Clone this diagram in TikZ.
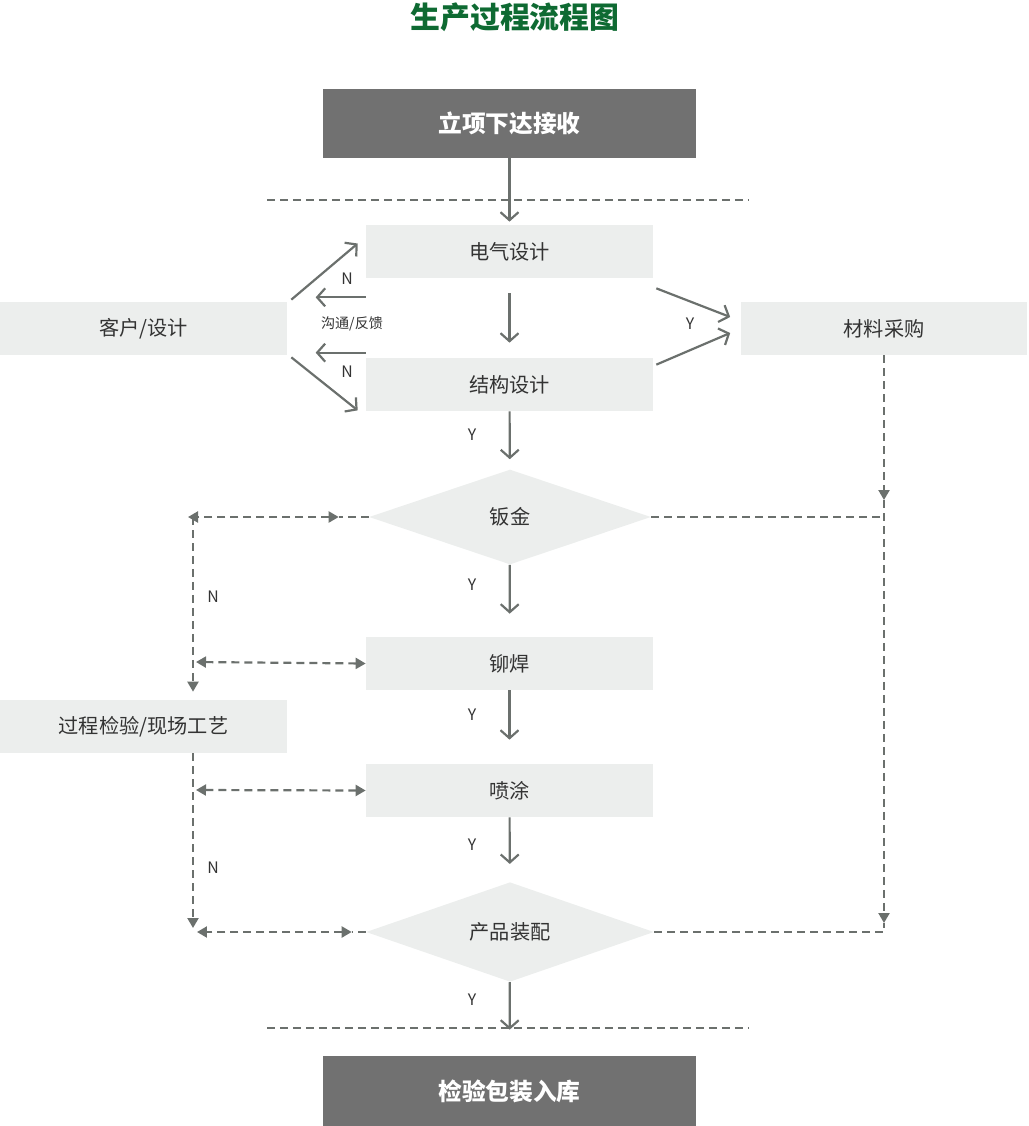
\documentclass[tikz,border=0pt]{standalone}
\usepackage{fontspec}
\setmainfont{Noto Sans CJK SC}
\usetikzlibrary{arrows.meta,shapes.geometric}
\definecolor{lnc}{HTML}{6B706D}
\definecolor{boxc}{HTML}{ECEEED}
\definecolor{darkc}{HTML}{717171}
\definecolor{titlec}{HTML}{0E6A32}
\definecolor{txtc}{HTML}{333333}

\begin{document}
\begin{tikzpicture}[x=0.02cm,y=-0.02cm,
    stage/.style={fill=boxc,text=txtc,minimum width=5.74cm,minimum height=1.06cm,inner sep=0pt,font=\fontsize{11.5}{13}\selectfont},
    headbox/.style={fill=darkc,text=white,minimum width=7.46cm,minimum height=1.38cm,inner sep=0pt,font=\fontsize{13.5}{16}\selectfont\bfseries},
    check/.style={diamond,fill=boxc,text=txtc,inner sep=0pt,font=\fontsize{11.5}{13}\selectfont},
    yn/.style={text=txtc,font=\fontsize{9}{11}\selectfont},
    flow/.style={draw=lnc,line width=1.25pt,>={Straight Barb[length=0.16cm,width=0.36cm]},->},
    dline/.style={draw=lnc,line width=1.25pt,dash pattern=on 0.16cm off 0.1cm,>={Triangle[length=0.2cm,width=0.22cm]}},
    dboth/.style={dline,<->}]
  \useasboundingbox (0,0) rectangle (1028,1126);
  \node[font=\fontsize{17}{20}\selectfont\bfseries,text=titlec] (title) at (515,17) {生产过程流程图};
  \node[headbox] (lx) at (509.5,123.5) {立项下达接收};
  \node[stage] (dq) at (509.5,251.5) {电气设计};
  \node[stage] (jg) at (509.5,384.5) {结构设计};
  \node[stage] (kh) at (143.5,328.5) {客户/设计};
  \node[stage] (cg) at (884,328.5) {材料采购};
  \node[check,minimum width=5.64cm,minimum height=1.9cm] (bj) at (510,517) {钣金};
  \node[stage] (mh) at (509.5,663.5) {铆焊};
  \node[stage] (pt) at (509.5,790.5) {喷涂};
  \node[stage] (jc) at (143.5,726.5) {过程检验/现场工艺};
  \node[check,minimum width=5.76cm,minimum height=1.94cm] (zp) at (510,932) {产品装配};
  \node[headbox,minimum height=1.4cm] (bz) at (509.5,1091) {检验包装入库};
  % separators
  \draw[dline] (267,200) -- (748,200); \draw[dline] (267,1028) -- (748,1028);
  % main flow
  \draw[flow,shorten >=0.06cm] (lx) -- (dq);
  \draw[flow,shorten <=0.3cm,shorten >=0.3cm] (dq) -- (jg);
  \draw[flow,shorten >=0.2cm] (jg) -- (bj);
  \draw[flow,shorten >=0.46cm] (bj) -- (mh);
  \draw[flow,shorten >=0.48cm] (mh) -- (pt);
  \draw[flow,shorten >=0.36cm] (pt) -- (zp);
  \draw[flow,shorten >=0.52cm] (zp) -- (bz);
  \node[yn] (y1) at (472,435) {Y}; \node[yn] (y2) at (472,585) {Y};
  \node[yn] (y3) at (472,715) {Y}; \node[yn] (y4) at (472,845) {Y};
  \node[yn] (y5) at (472,1000) {Y};
  % design feedback
  \draw[flow] ([shift={(4,-2)}]kh.north east) -- ([shift={(-8,-8)}]dq.west);
  \draw[flow] ([shift={(0,19)}]dq.south west) -- ++(-50,0);
  \draw[flow] ([shift={(0,-5)}]jg.north west) -- ++(-50,0);
  \draw[flow] ([shift={(4,2)}]kh.south east) -- ([shift={(-8,-1)}]jg.south west);
  \node[yn] (n1) at (347,279) {N}; \node[yn] (n2) at (347,372) {N};
  \node[text=txtc,font=\fontsize{8}{10}\selectfont] (gt) at (352,324) {沟通/反馈};
  \draw[flow] ([shift={(3,10)}]dq.south east) -- ([shift={(-10,-11.5)}]cg.west);
  \draw[flow] ([shift={(3,7)}]jg.north east) -- ([shift={(-10,4.5)}]cg.west);
  \node[yn] (y0) at (690,324) {Y};
  % inspection loops
  \coordinate (l1) at (193,517); \coordinate (l2) at (193,662);
  \coordinate (l3) at (193,790); \coordinate (l4) at (193,932);
  \coordinate (r1) at (884,517); \coordinate (r2) at (884,932);
  \draw[dline] (bj.west) -- ([xshift=-0.6cm]bj.west);
  \draw[dboth] ([xshift=-0.6cm]bj.west) -- ([xshift=-0.1cm]l1);
  \draw[dline,->] (l1) -- ([yshift=0.16cm]jc.north -| l1);
  \draw[dboth] ([xshift=0.06cm]l2) -- (mh.west);
  \draw[dline,->] (jc.south -| l1) -- ([yshift=0.08cm]l4);
  \draw[dboth] ([xshift=0.06cm]l3) -- (pt.west);
  \draw[dline] (zp.west) -- ([xshift=-0.28cm]zp.west);
  \draw[dboth] ([xshift=-0.28cm]zp.west) -- ([xshift=0.08cm]l4);
  \node[yn] (n3) at (213,597) {N}; \node[yn] (n4) at (213,868) {N};
  \draw[dline,->] (cg) -- ([yshift=0.34cm]r1);
  \draw[dline,->] ([yshift=0.34cm]r1) -- ([yshift=0.18cm]r2);
  \draw[dline] (bj.east) -- (r1);
  \draw[dline] (zp.east) -- (r2) -- ([yshift=0.18cm]r2);
\end{tikzpicture}
\end{document}
